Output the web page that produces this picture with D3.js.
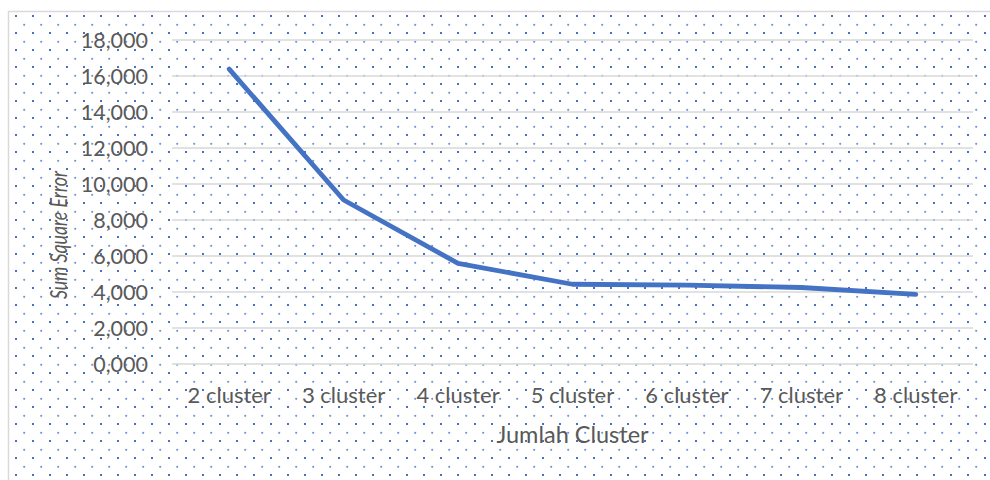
<!DOCTYPE html>
<html>
<head>
<meta charset="utf-8">
<script src="https://cdn.jsdelivr.net/npm/d3@7"></script>
<style>
  html, body { margin: 0; padding: 0; background: #fff; }
  svg { display: block; }
  text { font-family: Lato, "Open Sans", sans-serif; fill: #595959; }
</style>
</head>
<body>
<svg id="chart" width="990" height="480"></svg>
<script>
// Elbow curve: SSE for each number of clusters
const categories = ["2 cluster", "3 cluster", "4 cluster", "5 cluster", "6 cluster", "7 cluster", "8 cluster"];
const sseValues = [16380, 9110, 5590, 4430, 4380, 4250, 3870];
const yTicks = [0, 2000, 4000, 6000, 8000, 10000, 12000, 14000, 16000, 18000];
const xTitle = "Jumlah Cluster";
const yTitle = "Sum Square Error";

const W = 990, H = 480;
const plot = { left: 172, right: 973, top: 40, bottom: 364 };
const blue = "#4472C4";

const svg = d3.select("#chart");

// dotted fill of the chart area
const defs = svg.append("defs");
const pat = defs.append("pattern")
  .attr("id", "dots")
  .attr("patternUnits", "userSpaceOnUse")
  .attr("width", 17).attr("height", 17);
pat.append("rect").attr("x", 15).attr("y", 15).attr("width", 2).attr("height", 2).attr("fill", blue);
pat.append("circle").attr("cx", 7.2).attr("cy", 7.8).attr("r", 1.1).attr("fill", blue).attr("opacity", 0.75);

svg.append("rect")
  .attr("x", 8.5).attr("y", 11.5)
  .attr("width", W).attr("height", H)
  .attr("fill", "#fff");
svg.append("rect")
  .attr("x", 8.5).attr("y", 11.5)
  .attr("width", W).attr("height", H)
  .attr("fill", "url(#dots)")
  .attr("stroke", "#d9d9d9").attr("stroke-width", 1.5);

const x = d3.scaleBand().domain(categories).range([plot.left, plot.right]);
const y = d3.scaleLinear().domain([0, 18000]).range([plot.bottom, plot.top]);

// horizontal gridlines
svg.append("g")
  .selectAll("line")
  .data(yTicks)
  .join("line")
  .attr("x1", plot.left).attr("x2", plot.right)
  .attr("y1", d => y(d)).attr("y2", d => y(d))
  .attr("stroke", "#d9d9d9").attr("stroke-width", 1.6);

// y axis labels
const fmt = d => d3.format(",")(d / 1000) + ",000";
const yAxis = d3.axisLeft(y).tickValues(yTicks).tickFormat(fmt).tickSize(0).tickPadding(0);
const gy = svg.append("g").attr("transform", `translate(148,0)`).call(yAxis);
gy.select(".domain").remove();
gy.selectAll("text")
  .attr("font-family", "Lato, 'Open Sans', sans-serif")
  .attr("font-size", 21.5).attr("fill", "#595959").attr("dy", "0.34em");

// x axis labels
const xAxis = d3.axisBottom(x).tickSize(0).tickPadding(0);
const gx = svg.append("g").attr("transform", `translate(0,${plot.bottom})`).call(xAxis);
gx.select(".domain").remove();
gx.selectAll("text")
  .attr("font-family", "Lato, 'Open Sans', sans-serif")
  .attr("font-size", 22).attr("fill", "#595959")
  .attr("dy", null).attr("y", 39);

// axis titles
svg.append("text")
  .attr("x", (plot.left + plot.right) / 2).attr("y", 443)
  .attr("text-anchor", "middle").attr("font-size", 23.5)
  .text(xTitle);
svg.append("text")
  .attr("transform", "translate(66.5,235) rotate(-90)")
  .attr("text-anchor", "middle").attr("font-size", 23)
  .attr("font-style", "italic")
  .attr("textLength", 128).attr("lengthAdjust", "spacingAndGlyphs")
  .text(yTitle);

// SSE line
const line = d3.line()
  .x((d, i) => x(categories[i]) + x.bandwidth() / 2)
  .y(d => y(d));
svg.append("path")
  .datum(sseValues)
  .attr("d", line)
  .attr("fill", "none")
  .attr("stroke", blue).attr("stroke-width", 4.8)
  .attr("stroke-linejoin", "round").attr("stroke-linecap", "round");
</script>
</body>
</html>
